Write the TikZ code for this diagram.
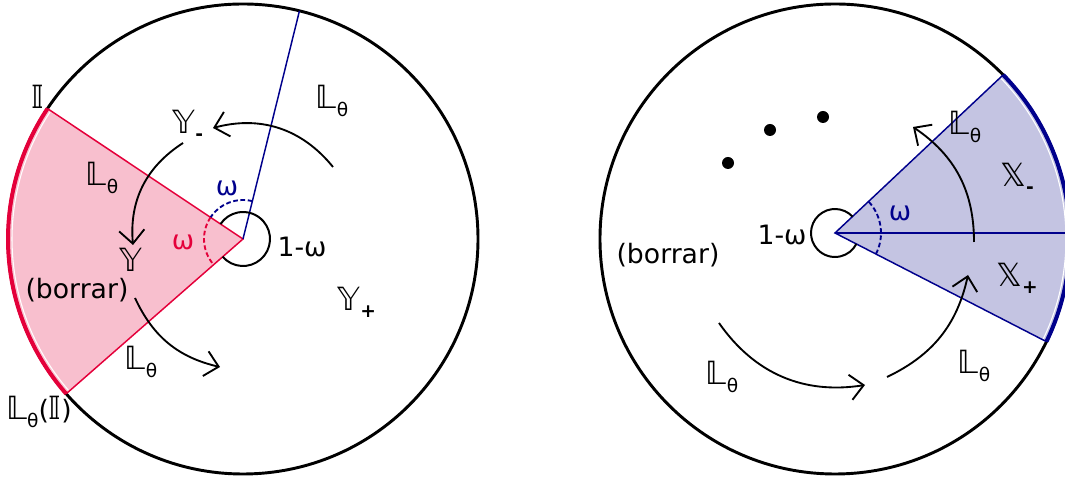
\documentclass[tikz,border=0pt]{standalone}
\usepackage{fontspec}
\setmainfont{DejaVu Sans}
\usetikzlibrary{arrows.meta}

\definecolor{rosefill}{RGB}{248,191,206}
\definecolor{roseline}{RGB}{228,0,58}
\definecolor{navyline}{RGB}{0,0,140}
\definecolor{lavfill}{RGB}{196,196,226}

\newcommand{\dbl}[1]{{\fontsize{24}{24}\selectfont #1}}
\newcommand{\lowidx}[1]{\raisebox{-0.5ex}{\fontsize{14}{14}\selectfont #1}}
\newcommand{\Lth}{\dbl{𝕃}\lowidx{θ}}

\begin{document}
\begin{tikzpicture}[x=0.75pt,y=0.75pt,
  every node/.style={font=\fontsize{20}{22}\selectfont},
  rim/.style={line width=2.2pt},
  edge/.style={line width=1.1pt},
  band/.style={line width=3pt},
  ring/.style={line width=1.5pt},
  halfring/.style={line width=1.4pt, dash pattern=on 3.5pt off 2pt},
  turn/.style={line width=1.4pt, -{Straight Barb[length=10pt,width=19pt]}},
  dot/.style={circle, fill, inner sep=0pt, minimum size=9pt}]
\useasboundingbox (0,0) rectangle (1065,481);
\clip (0,0) rectangle (1065,481);

% left disc
\coordinate (c1) at (243,242);
\path (c1) ++(146.3:235) coordinate (lup);
\path (c1) ++(221.2:235) coordinate (ldn);
\path (c1) ++(76.1:235) coordinate (ltop);
\fill[rosefill] (c1) -- (lup) arc[start angle=146.3, end angle=221.2, radius=235] -- cycle;
\draw[white, line width=0.8pt] (c1) ++(146.6:231) arc[start angle=146.6, end angle=220.9, radius=231];
\draw[rim] (c1) circle[radius=235];
\draw[band, roseline] (lup) arc[start angle=146.3, end angle=221.2, radius=235];
\draw[edge, roseline] (lup) -- (c1) -- (ldn);
\draw[edge, navyline] (c1) -- (ltop);
\draw[ring] (c1) ++(-138.8:27) arc[start angle=-138.8, end angle=146.3, radius=27];
\draw[halfring, navyline] (c1) ++(76.1:39) arc[start angle=76.1, end angle=146.3, radius=39];
\draw[halfring, roseline] (c1) ++(146.3:39) arc[start angle=146.3, end angle=221.2, radius=39];

\coordinate (a1s) at (333,314);
\coordinate (a1e) at (213,353);
\coordinate (a2s) at (183,338);
\coordinate (a2e) at (133,236);
\coordinate (a3s) at (135,183);
\coordinate (a3e) at (220,114);
\draw[turn] (a1s) to[bend right=33] (a1e);
\draw[turn] (a2s) to[bend right=31] (a2e);
\draw[turn] (a3s) to[bend right=26] (a3e);

\node (iset) at (38,384) {\dbl{𝕀}};
\node (lset) at (39,69) {\Lth(\dbl{𝕀})};
\node (lthA) at (102,303) {\Lth};
\node (lthB) at (141,119) {\Lth};
\node (lthC) at (332,380) {\Lth};
\node (yminus) at (188,356) {\dbl{𝕐}\lowidx{\textbf{-}}};
\node (yset) at (131,221) {\dbl{𝕐}};
\node (yplus) at (357,179) {\dbl{𝕐}\lowidx{\textbf{+}}};
\node[text=roseline] (omR) at (183,239) {ω};
\node[text=navyline] (omB) at (227,293) {ω};
\node (restL) at (302,234) {1-ω};
\node (delL) at (77,191) {(borrar)};

% right disc
\coordinate (c2) at (835,242);
\coordinate (v2) at (835,248);
\coordinate (rmid) at (1075,248);
\path (c2) ++(44.3:235) coordinate (rup);
\path (c2) ++(-25.9:235) coordinate (rdn);
\fill[lavfill] (v2) -- (rup) arc[start angle=44.3, end angle=-25.9, radius=235] -- cycle;
\draw[white, line width=0.8pt] (c2) ++(44:231) arc[start angle=44, end angle=-25.6, radius=231];
\draw[rim] (c2) circle[radius=235];
\draw[band, navyline] (rup) arc[start angle=44.3, end angle=-25.9, radius=235];
\draw[edge, navyline] (rup) -- (v2) -- (rdn);
\draw[edge, navyline] (v2) -- (rmid);
\draw[ring] (v2) ++(43.2:24) arc[start angle=43.2, end angle=332.8, radius=24];
\draw[halfring, navyline] (v2) ++(-27.2:46) arc[start angle=-27.2, end angle=43.2, radius=46];

\node[dot] (d1) at (728,318) {};
\node[dot] (d2) at (770,351) {};
\node[dot] (d3) at (823,364) {};

\coordinate (b1s) at (974,239);
\coordinate (b1e) at (913,354);
\coordinate (b2s) at (887,104);
\coordinate (b2e) at (968,206);
\coordinate (b3s) at (719,158);
\coordinate (b3e) at (865,96);
\draw[turn] (b1s) to[bend right=28] (b1e);
\draw[turn] (b2s) to[bend right=26] (b2e);
\draw[turn] (b3s) to[bend right=32] (b3e);

\node (lthD) at (965,354) {\Lth};
\node (lthE) at (722,104) {\Lth};
\node (lthF) at (974,115) {\Lth};
\node (xminus) at (1017,303) {\dbl{𝕏}\lowidx{\textbf{-}}};
\node (xplus) at (1017,203) {\dbl{𝕏}\lowidx{\textbf{+}}};
\node[text=navyline] (omC) at (900,268) {ω};
\node (restR) at (782,246) {1-ω};
\node (delR) at (668,226) {(borrar)};
\end{tikzpicture}
\end{document}
